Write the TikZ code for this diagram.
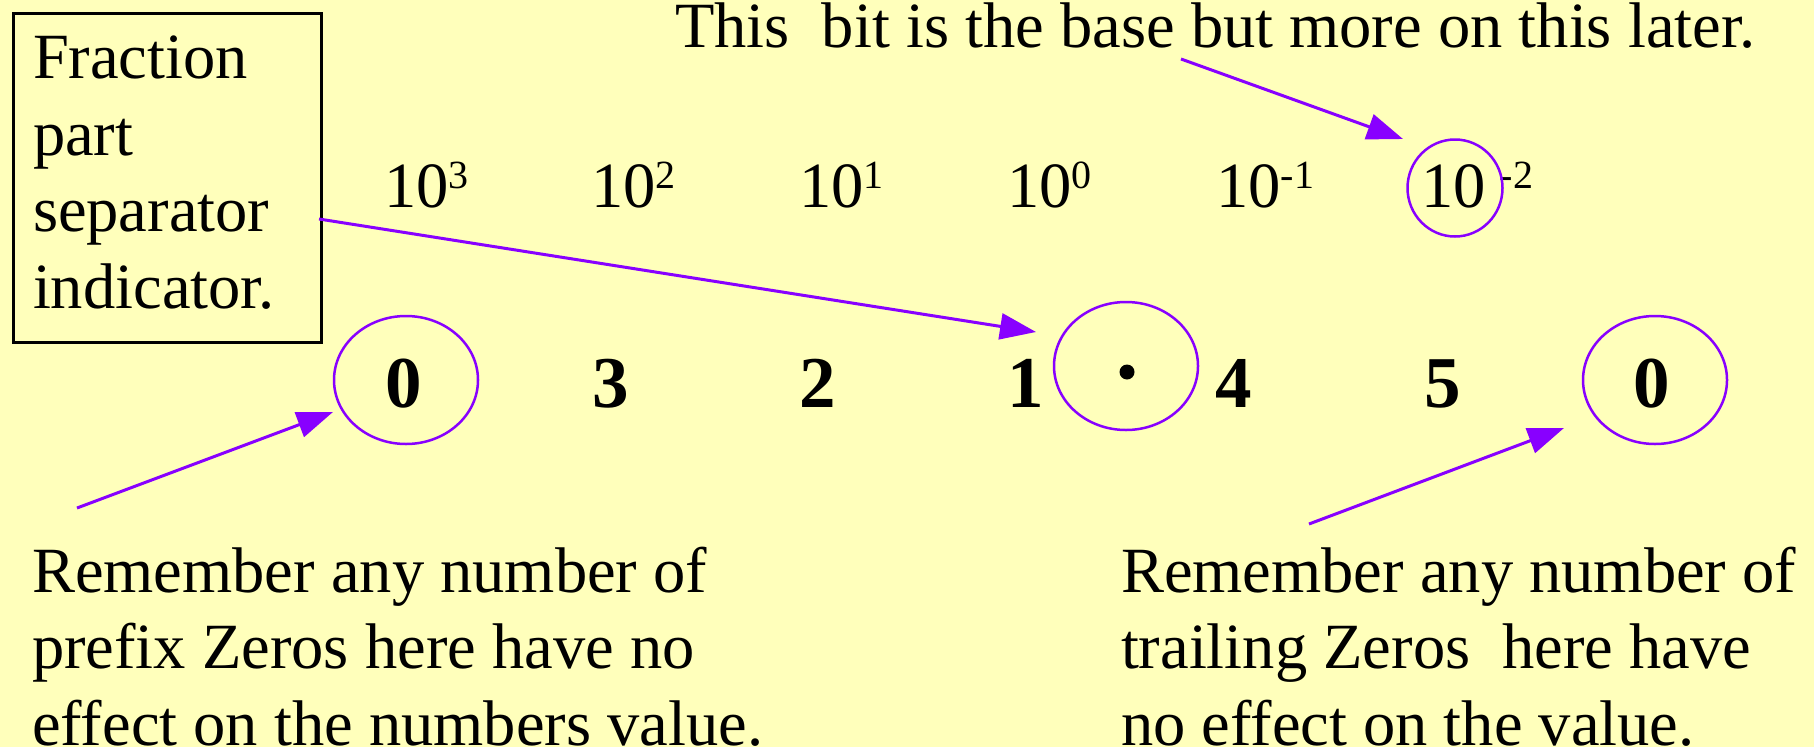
\documentclass[tikz,border=0pt]{standalone}
\usepackage{fontspec}
\setmainfont{Liberation Serif}
\usetikzlibrary{shapes.geometric,arrows.meta}
\definecolor{bgyellow}{RGB}{255,255,187}
\definecolor{vio}{RGB}{136,0,255}
\tikzset{
  txt/.style={anchor=base west, inner sep=0pt, outer sep=0pt, font=\fontsize{64.5}{76.5}\selectfont, align=left},
  pow/.style={anchor=base west, inner sep=0pt, font=\fontsize{64.5}{76.5}\selectfont},
  digit/.style={anchor=base, inner sep=0pt, font=\fontsize{73}{80}\selectfont\bfseries},
  ring/.style={draw=vio, line width=2.5pt, ellipse, inner sep=0pt},
  pointer/.style={draw=vio, line width=3pt, -{Triangle[length=36pt,width=26pt]}}
}
\newcommand{\myexp}[1]{\raisebox{19pt}{\fontsize{40}{40}\selectfont #1}}
\begin{document}
\begin{tikzpicture}[x=1pt,y=-1pt]
\fill[bgyellow] (0,0) rectangle (1814,747);
\useasboundingbox (0,0) rectangle (1814,747);
% box
\node[draw=black, line width=2.5pt, minimum width=308pt, minimum height=329pt, anchor=north west, inner sep=0pt] (box) at (12,12) {};
\node[txt] (boxtext) at (33,308) {Fraction\\part\\separator\\indicator.};
% top text
\node[txt] (toptext) at (675,47) {This\ \ bit is the base but more on this later.};
% powers
\node[pow] (p3) at (384,207) {10\myexp{3}};
\node[pow] (p2) at (591,207) {10\myexp{2}};
\node[pow] (p1) at (799,207) {10\myexp{1}};
\node[pow] (p0) at (1007,207) {10\myexp{0}};
\node[pow] (pm1) at (1216,207) {10\myexp{-1}};
\node[pow] (pm2) at (1421,207) {10\hspace{14pt}\myexp{-2}};
\node[ring, minimum width=95pt, minimum height=97pt] (rbase) at (1455,188) {};
% digits
\node[digit] (d0) at (404,407) {0};
\node[digit] (d3) at (611,407) {3};
\node[digit] (d2) at (818,407) {2};
\node[digit] (d1) at (1026,407) {1};
\node[circle, fill=black, minimum size=15pt, inner sep=0pt] (dot) at (1127,372) {};
\node[digit] (d4) at (1234,407) {4};
\node[digit] (d5) at (1443,407) {5};
\node[digit] (dz) at (1652,407) {0};
\node[ring, minimum width=144pt, minimum height=128pt] (r0) at (406,380) {};
\node[ring, minimum width=144pt, minimum height=128pt] (rdot) at (1126,366) {};
\node[ring, minimum width=144pt, minimum height=128pt] (rz) at (1655,380) {};
% bottom texts
\node[txt] (lefttext) at (32,745) {Remember any number of\\prefix Zeros here have no\\effect on the numbers value.};
\node[txt] (righttext) at (1121,745) {Remember any number of\\trailing Zeros\ \ here have\\no effect on the value.};
% arrow endpoints
\coordinate (a1s) at (319,219);
\coordinate (a1e) at (1036,332);
\coordinate (a2s) at (1181,59);
\coordinate (a2e) at (1403,139);
\coordinate (a3s) at (77,508);
\coordinate (a3e) at (333,412);
\coordinate (a4s) at (1309,524);
\coordinate (a4e) at (1564,428);
\draw[pointer] (a1s) -- (a1e);
\draw[pointer] (a2s) -- (a2e);
\draw[pointer] (a3s) -- (a3e);
\draw[pointer] (a4s) -- (a4e);
\end{tikzpicture}
\end{document}
